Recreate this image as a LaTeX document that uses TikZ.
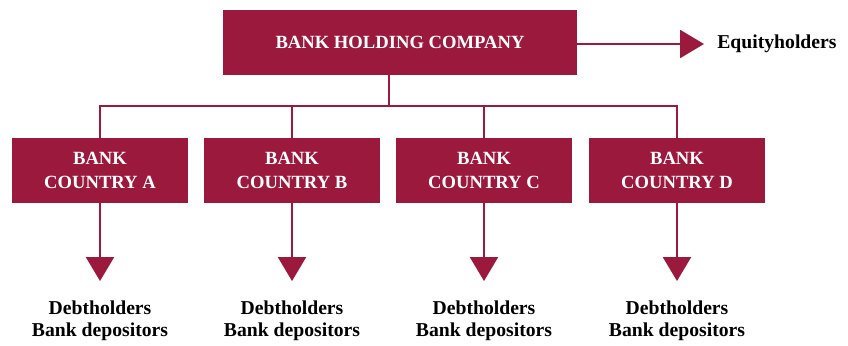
\documentclass[tikz,border=0pt]{standalone}
\usepackage{fontspec}
\setmainfont{Liberation Serif}
\usetikzlibrary{arrows.meta}
\definecolor{bankred}{RGB}{156,25,62}

\begin{document}
\begin{tikzpicture}[%
      x=0.02cm, y=-0.02cm,
      box/.style={fill=bankred, text=white, inner sep=0pt, align=center,
        minimum height=1.3cm, font=\fontsize{10.6}{13.6}\selectfont\bfseries},
      holder/.style={inner sep=0pt, align=center,
        font=\fontsize{11.2}{13}\selectfont\bfseries},
      link/.style={color=bankred, line width=1.2pt},
      flow/.style={link, -{Triangle[width=15.9pt, length=13.6pt]}},
      ]
      \useasboundingbox (0,0) rectangle (848,345);

      \node [box, minimum width=7.08cm] (bhc) at (400,42.5) {BANK HOLDING COMPANY};
      \node [holder, anchor=west] (equity) at (717,44) {Equityholders};
      \draw [flow, shorten >=7.4pt] (bhc.east |- equity.west) -- (equity.west);

      \coordinate (hub) at (389,106);
      \draw [link] (hub |- bhc.south) -- (hub);

      \node [box, minimum width=3.52cm] (bankA) at (100,170.5) {BANK\\COUNTRY A};
      \node [box, minimum width=3.52cm] (bankB) at (292,170.5) {BANK\\COUNTRY B};
      \node [box, minimum width=3.52cm] (bankC) at (484,170.5) {BANK\\COUNTRY C};
      \node [box, minimum width=3.52cm] (bankD) at (677,170.5) {BANK\\COUNTRY D};

      \draw [link] (bankA.north) -- (bankA.north |- hub) -- (bankD.north |- hub) -- (bankD.north);
      \draw [link] (bankB.north) -- (bankB.north |- hub);
      \draw [link] (bankC.north) -- (bankC.north |- hub);

      \node [holder, anchor=north] (debtA) at (100,300) {Debtholders\\Bank depositors};
      \node [holder, anchor=north] (debtB) at (292,300) {Debtholders\\Bank depositors};
      \node [holder, anchor=north] (debtC) at (484,300) {Debtholders\\Bank depositors};
      \node [holder, anchor=north] (debtD) at (677,300) {Debtholders\\Bank depositors};

      \draw [flow, shorten >=10.8pt] (bankA.south) -- (debtA.north);
      \draw [flow, shorten >=10.8pt] (bankB.south) -- (debtB.north);
      \draw [flow, shorten >=10.8pt] (bankC.south) -- (debtC.north);
      \draw [flow, shorten >=10.8pt] (bankD.south) -- (debtD.north);
      \end{tikzpicture}
\end{document}
